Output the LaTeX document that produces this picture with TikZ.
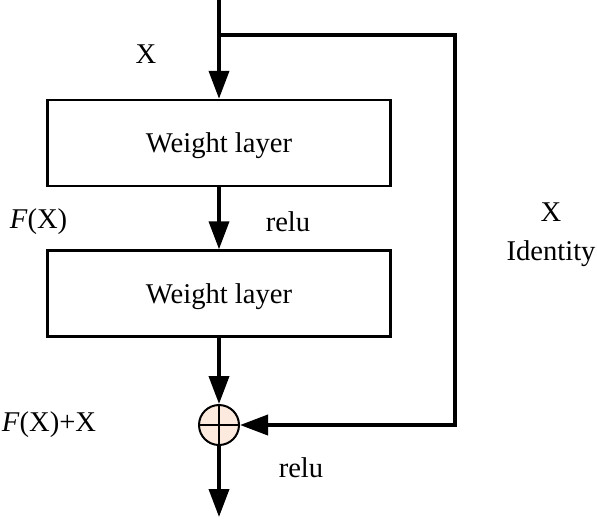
\documentclass[tikz,border=0pt]{standalone}
\usepackage{fontspec}
\setmainfont{Liberation Serif}
\usetikzlibrary{arrows.meta}
\definecolor{sumfill}{HTML}{FBEADD}
\tikzset{
 layer/.style={draw, line width=1.2pt, minimum width=171.5pt, minimum height=43pt, text depth=0pt},
 flow/.style={line width=1.9pt, -{Triangle[length=14pt,width=10pt]}},
 lbl/.style={inner sep=0pt}
}
\begin{document}
\begin{tikzpicture}[x=0.5pt,y=-0.5pt,font=\fontsize{14.3}{19.5}\selectfont]
 \useasboundingbox (0,0) rectangle (597,520);
 \coordinate (in) at (219,0);
 \coordinate (split) at (219,35);
 \coordinate (c1) at (455,35);
 \coordinate (c2) at (455,425);
 \coordinate (out) at (219,517);
 \node[layer] (wl1) at (219,143) {Weight layer};
 \node[layer] (wl2) at (219,293.5) {Weight layer};
 \node[circle, draw, line width=1pt, fill=sumfill, minimum size=20pt, inner sep=0pt] (add) at (219,425) {};
 \draw[line width=0.9pt] (add.north) -- (add.south) (add.west) -- (add.east);
 % main path
 \draw[flow] (in) -- (wl1.north);
 \draw[flow] (wl1.south) -- (wl2.north);
 \draw[flow] (wl2.south) -- (add.north);
 \draw[flow] (add.south) -- (out);
 % shortcut
 \draw[flow] (split) -- (c1) -- (c2) -- (add.east);
 \node[lbl] (xin) at (146,54) {X};
 \node[lbl] (fx) at (38.5,222) {\textit{F}(X)};
 \node[lbl] (relu1) at (288,222) {relu};
 \node[lbl, align=center] (ident) at (551,235) {X\\Identity};
 \node[lbl] (fxx) at (49,425) {\textit{F}(X)+X};
 \node[lbl] (relu2) at (301,468) {relu};
\end{tikzpicture}
\end{document}
